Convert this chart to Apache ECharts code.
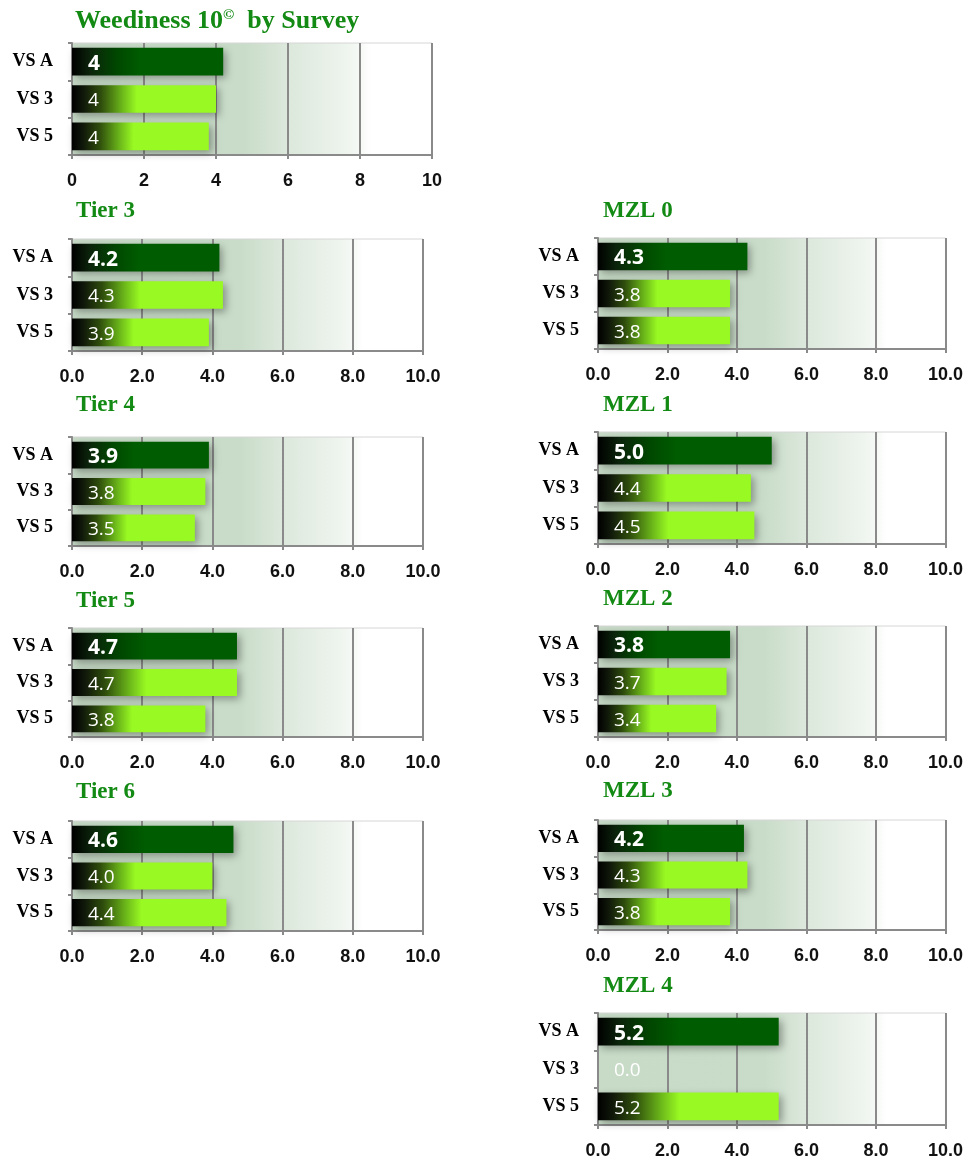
<!DOCTYPE html>
<html>
<head>
<meta charset="utf-8">
<script src="https://cdn.jsdelivr.net/npm/echarts@6/dist/echarts.min.js"></script>
<style>
  html, body { margin: 0; padding: 0; background: #ffffff; }
  #chart { width: 966px; height: 1161px; }
</style>
</head>
<body>
<div id="chart"></div>
<script>
// Survey rows shown in every panel
const categories = ['VS A', 'VS 3', 'VS 5'];

// Panel names
const panelNames = ['Weediness 10{sup|©}  by Survey', 'Tier 3', 'Tier 4', 'Tier 5', 'Tier 6',
                    'MZL 0', 'MZL 1', 'MZL 2', 'MZL 3', 'MZL 4'];

// Weediness scores per panel (VS A, VS 3, VS 5)
const overall = [4.2, 4.0, 3.8];
const tier3 = [4.2, 4.3, 3.9];
const tier4 = [3.9, 3.8, 3.5];
const tier5 = [4.7, 4.7, 3.8];
const tier6 = [4.6, 4.0, 4.4];
const mzl0 = [4.3, 3.8, 3.8];
const mzl1 = [5.0, 4.4, 4.5];
const mzl2 = [3.8, 3.7, 3.4];
const mzl3 = [4.2, 4.3, 3.8];
const mzl4 = [5.2, 0.0, 5.2];

// Value axis ticks
const axisMin = 0;
const axisMax = 10;
const axisStep = 2;
// Decimal places for tick and bar labels in each panel
const decimals = [0, 1, 1, 1, 1, 1, 1, 1, 1, 1];

const panelValues = [overall, tier3, tier4, tier5, tier6, mzl0, mzl1, mzl2, mzl3, mzl4];

// Panel placement on the page (title position, title size and plot rectangle)
const layout = [
  { tt: 8,     tl: 75,  ts: 26, x0: 72,  x1: 432, y0: 43,   y1: 155 },
  { tt: 199.5, tl: 76,  ts: 23, x0: 72,  x1: 423, y0: 239,  y1: 351 },
  { tt: 393.5, tl: 76,  ts: 23, x0: 72,  x1: 423, y0: 437,  y1: 546 },
  { tt: 589.5, tl: 76,  ts: 23, x0: 72,  x1: 423, y0: 628,  y1: 737 },
  { tt: 780.5, tl: 76,  ts: 23, x0: 72,  x1: 423, y0: 821,  y1: 931 },
  { tt: 199.5, tl: 603, ts: 23, x0: 598, x1: 946, y0: 238,  y1: 349 },
  { tt: 393.5, tl: 603, ts: 23, x0: 598, x1: 947, y0: 432,  y1: 544 },
  { tt: 588,   tl: 603, ts: 23, x0: 598, x1: 946, y0: 626,  y1: 737 },
  { tt: 779.5, tl: 603, ts: 23, x0: 598, x1: 946, y0: 820,  y1: 930 },
  { tt: 974.5, tl: 603, ts: 23, x0: 598, x1: 946, y0: 1013, y1: 1125 }
];

const LG = echarts.graphic.LinearGradient;
const titleGreen = '#138a13';
const gridGray = '#8a8a8a';
const serif = '"Liberation Serif", "Times New Roman", serif';

// Plot background: pale green fading to white toward the right
function plotBackground() {
  return new LG(0, 0, 1, 0, [
    { offset: 0, color: '#c7dbc7' },
    { offset: 0.48, color: '#c9dcc9' },
    { offset: 0.6, color: '#dce8dc' },
    { offset: 0.76, color: '#eef4ee' },
    { offset: 0.8, color: '#f6f9f6' },
    { offset: 0.83, color: '#ffffff' },
    { offset: 1, color: '#ffffff' }
  ]);
}

// Bar fills: black at the base blending into the series colour
function darkFill() {
  return new LG(0, 0, 1, 0, [
    { offset: 0, color: '#000000' },
    { offset: 0.12, color: '#0b230b' },
    { offset: 0.3, color: '#004800' },
    { offset: 0.45, color: '#005c00' },
    { offset: 1, color: '#005c00' }
  ]);
}
function limeFill() {
  return new LG(0, 0, 1, 0, [
    { offset: 0, color: '#000000' },
    { offset: 0.08, color: '#10180a' },
    { offset: 0.2, color: '#2e4c0c' },
    { offset: 0.35, color: '#6cb81a' },
    { offset: 0.45, color: '#99f922' },
    { offset: 1, color: '#99f922' }
  ]);
}

const titles = [], grids = [], xAxes = [], yAxes = [], series = [];

panelValues.forEach((vals, i) => {
  const L = layout[i];
  const dp = decimals[i];

  titles.push({
    text: panelNames[i],
    left: L.tl,
    top: L.tt,
    padding: 0,
    textStyle: {
      fontFamily: serif,
      fontWeight: 'bold',
      fontSize: L.ts,
      color: titleGreen,
      rich: {
        sup: {
          fontFamily: serif,
          fontWeight: 'bold',
          fontSize: 15,
          color: titleGreen,
          verticalAlign: 'top',
          padding: [0, 0, 11, 0]
        }
      }
    }
  });

  grids.push({
    left: L.x0,
    top: L.y0,
    width: L.x1 - L.x0,
    height: L.y1 - L.y0,
    show: true,
    backgroundColor: plotBackground(),
    borderColor: '#d6d6d6',
    borderWidth: 1
  });

  xAxes.push({
    type: 'value',
    gridIndex: i,
    min: axisMin,
    max: axisMax,
    interval: axisStep,
    axisLine: { show: true, lineStyle: { color: gridGray, width: 2 } },
    axisTick: { show: true, length: 4, lineStyle: { color: gridGray, width: 2 } },
    splitLine: { show: true, lineStyle: { color: gridGray, width: 2 } },
    axisLabel: {
      margin: 17,
      fontFamily: '"Liberation Sans", Arial, sans-serif',
      fontWeight: 'bold',
      fontSize: 18,
      color: '#111111',
      formatter: v => v.toFixed(dp)
    }
  });

  yAxes.push({
    type: 'category',
    gridIndex: i,
    inverse: true,
    data: categories,
    axisLine: { show: true, lineStyle: { color: gridGray, width: 2 } },
    axisTick: { show: true, length: 4, lineStyle: { color: gridGray, width: 2 } },
    axisLabel: {
      margin: 19,
      fontFamily: serif,
      fontWeight: 'bold',
      fontSize: 18,
      color: '#000000'
    }
  });

  series.push({
    type: 'bar',
    xAxisIndex: i,
    yAxisIndex: i,
    barWidth: '74%',
    data: vals.map((v, k) => ({
      value: v,
      itemStyle: {
        color: k === 0 ? darkFill() : limeFill(),
        shadowBlur: 8,
        shadowColor: 'rgba(0,0,0,0.35)',
        shadowOffsetX: 3,
        shadowOffsetY: 3
      },
      label: {
        show: true,
        position: 'insideLeft',
        distance: 16,
        offset: [0, 2],
        color: '#ffffff',
        fontFamily: '"Open Sans", "Noto Sans", sans-serif',
        fontWeight: k === 0 ? 'bold' : 'normal',
        fontSize: k === 0 ? 21 : 19,
        formatter: p => Number(p.value).toFixed(dp)
      }
    }))
  });
});

const chart = echarts.init(document.getElementById('chart'), null, { renderer: 'canvas' });
chart.setOption({
  animation: false,
  backgroundColor: '#ffffff',
  title: titles,
  grid: grids,
  xAxis: xAxes,
  yAxis: yAxes,
  series: series
});
</script>
</body>
</html>
